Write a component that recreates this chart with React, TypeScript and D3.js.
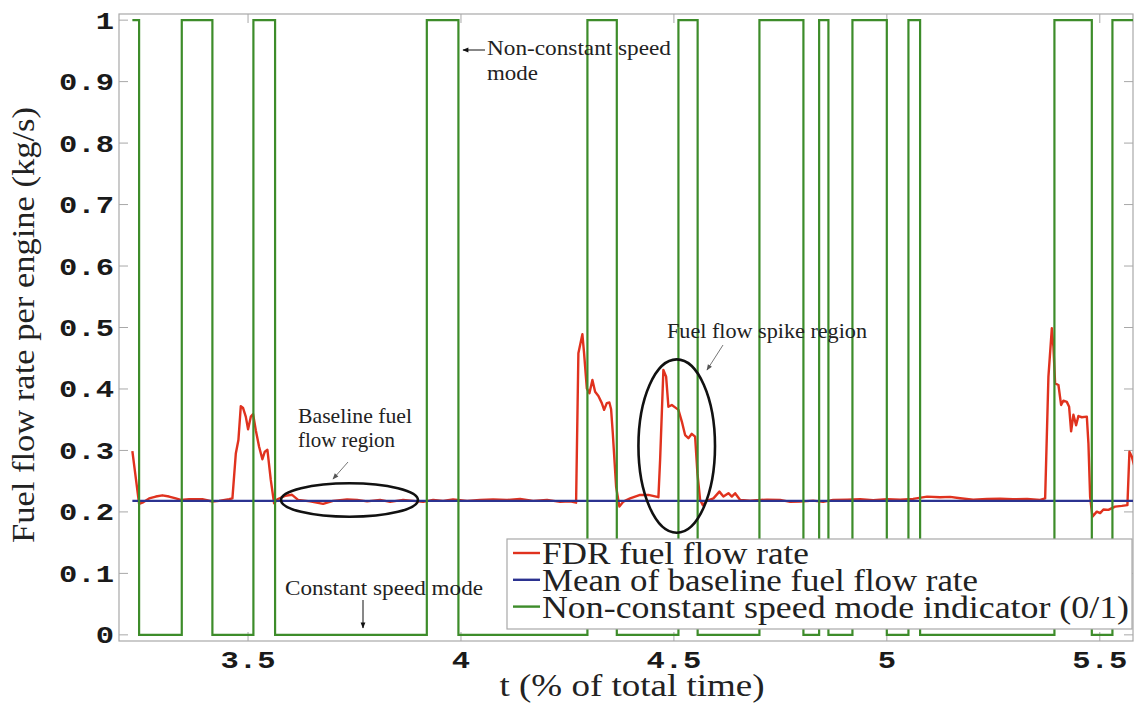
import React from 'react';
import * as d3 from 'd3';

// ---------- data ----------
const xTicks = [3.5, 4, 4.5, 5, 5.5];
const xTickLabels = ['3.5', '4', '4.5', '5', '5.5'];
const yTicks = [0, 0.1, 0.2, 0.3, 0.4, 0.5, 0.6, 0.7, 0.8, 0.9, 1];
const yTickLabels = ['0', '0.1', '0.2', '0.3', '0.4', '0.5', '0.6', '0.7', '0.8', '0.9', '1'];

// FDR fuel flow rate (kg/s) vs t (% of total time)
const fdrT = [
  3.2284, 3.2442, 3.2519, 3.2677, 3.2834, 3.2989, 3.3146, 3.3304, 3.3421, 3.3616,
  3.3928, 3.4163, 3.432, 3.4555, 3.4633, 3.4713, 3.4774, 3.483, 3.4884, 3.4947,
  3.5001, 3.5065, 3.5119, 3.5182, 3.526, 3.5337, 3.5394, 3.5455, 3.5534, 3.5612,
  3.5689, 3.587, 3.6027, 3.6175, 3.6457, 3.6763, 3.6997, 3.7326, 3.7561, 3.7796,
  3.8101, 3.8336, 3.8641, 3.8876, 3.9111, 3.9346, 3.958, 3.9815, 4.0144, 4.0449,
  4.0754, 4.1083, 4.1388, 4.1694, 4.2022, 4.2328, 4.2563, 4.2703, 4.2757, 4.2851,
  4.2891, 4.2955, 4.3016, 4.3086, 4.315, 4.3227, 4.3307, 4.3361, 4.3424, 4.3485,
  4.3525, 4.3565, 4.3643, 4.372, 4.3814, 4.3971, 4.4206, 4.4401, 4.4636, 4.4676,
  4.4753, 4.4817, 4.4871, 4.4951, 4.5028, 4.5106, 4.5186, 4.5263, 4.534, 4.542,
  4.5498, 4.5552, 4.5615, 4.5679, 4.5773, 4.5928, 4.6068, 4.6162, 4.628, 4.636,
  4.6437, 4.6555, 4.6789, 4.7188, 4.7494, 4.7729, 4.7963, 4.8269, 4.8503, 4.8738,
  4.9067, 4.9372, 4.9678, 5.0006, 5.0312, 5.0617, 5.0946, 5.1251, 5.1486, 5.1721,
  5.2026, 5.2355, 5.266, 5.2965, 5.3294, 5.3599, 5.3717, 5.3794, 5.3874, 5.3911,
  5.3951, 5.4029, 5.4092, 5.4146, 5.4226, 5.428, 5.4327, 5.4381, 5.4444, 5.4498,
  5.4578, 5.4696, 5.4733, 5.4773, 5.4827, 5.493, 5.5008, 5.5085, 5.5203, 5.536,
  5.5518, 5.5649, 5.5696, 5.5752, 5.5806,
];
const fdrV = [
  0.299, 0.213, 0.215, 0.222, 0.225, 0.227, 0.225, 0.222, 0.2195, 0.2206,
  0.2206, 0.217, 0.218, 0.2206, 0.222, 0.295, 0.317, 0.372, 0.369, 0.355,
  0.3345, 0.355, 0.359, 0.333, 0.306, 0.2857, 0.298, 0.301, 0.252, 0.214,
  0.2206, 0.226, 0.228, 0.2195, 0.2171, 0.213, 0.2179, 0.2203, 0.2195, 0.2171,
  0.2195, 0.2163, 0.2195, 0.2179, 0.2163, 0.2195, 0.2179, 0.2203, 0.2179, 0.2195,
  0.2203, 0.2195, 0.2211, 0.2179, 0.2195, 0.2163, 0.2171, 0.215, 0.458, 0.489,
  0.458, 0.401, 0.393, 0.4146, 0.3956, 0.3886, 0.377, 0.366, 0.377, 0.378,
  0.367, 0.328, 0.241, 0.2086, 0.2168, 0.222, 0.2276, 0.2276, 0.224, 0.2846,
  0.431, 0.42, 0.371, 0.374, 0.37, 0.366, 0.347, 0.325, 0.32, 0.327,
  0.3225, 0.263, 0.2195, 0.211, 0.218, 0.222, 0.233, 0.225, 0.2304, 0.225,
  0.2304, 0.2195, 0.2184, 0.22, 0.2195, 0.2163, 0.2167, 0.2184, 0.2163, 0.2195,
  0.22, 0.2207, 0.219, 0.2207, 0.22, 0.2211, 0.2249, 0.2239, 0.2244, 0.2223,
  0.22, 0.2211, 0.2216, 0.2207, 0.2211, 0.2195, 0.222, 0.42, 0.4987, 0.469,
  0.409, 0.4065, 0.374, 0.381, 0.379, 0.371, 0.331, 0.358, 0.341, 0.356,
  0.354, 0.355, 0.312, 0.225, 0.1924, 0.2005, 0.198, 0.204, 0.2033, 0.2086,
  0.2098, 0.211, 0.298, 0.29, 0.276,
];

// Mean of baseline fuel flow rate
const meanT = [3.2284, 5.5806];
const meanV = [0.218, 0.218];

// Non-constant speed mode indicator (0/1), value holds from each time to the next
const modeT = [
  3.2284, 3.2442, 3.3444, 3.4163, 3.5126, 3.5635, 3.9198, 3.994, 4.2969, 4.3659,
  4.5106, 4.5557, 4.7008, 4.8041, 4.841, 4.8628, 4.9192, 4.9999, 5.0507, 5.0781,
  5.3935, 5.4813, 5.5297, 5.5806,
];
const modeV = [
  1, 0, 1, 0, 1, 0, 1, 0, 1, 0,
  1, 0, 1, 0, 1, 0, 1, 0, 1, 0,
  1, 0, 1, 1,
];

const legendLabels = [
  'FDR fuel flow rate',
  'Mean of baseline fuel flow rate',
  'Non-constant speed mode indicator (0/1)',
];

// ---------- layout ----------
const W = 1134;
const H = 703;
const L = 119, R = 1133, T = 14, B = 641;
const RED = '#e0321e';
const BLUE = '#2b3290';
const GREEN = '#3d8c2a';
const FRAME = '#a8a8a8';
const SERIF = '"Liberation Serif", "DejaVu Serif", serif';
const MONO = '"Liberation Mono", "DejaVu Sans Mono", monospace';

export default function App() {
  const x = d3.scaleLinear().domain([3.197, 5.578]).range([L, R]);
  const y = d3.scaleLinear().domain([-0.01, 1.01]).range([B, T]);

  const line = d3
    .line<number>()
    .x((_, i, arr) => 0)
    .y(() => 0);
  void line;

  const mk = (ts: number[], vs: number[], curve?: d3.CurveFactory) => {
    const g = d3
      .line<[number, number]>()
      .x((d) => x(d[0]))
      .y((d) => y(d[1]));
    if (curve) g.curve(curve);
    return g(ts.map((t, i) => [t, vs[i]] as [number, number])) || '';
  };

  const fdrPath = mk(fdrT, fdrV);
  const meanPath = mk(meanT, meanV);
  const modePath = mk(modeT, modeV, d3.curveStepAfter);

  const tickLen = 9;

  const ell1 = { t: 3.7382, v: 0.2194, rt: 0.1608, rv: 0.0272 };
  const ell2 = { t: 4.5066, v: 0.3072, rt: 0.0899, rv: 0.141 };

  return (
    <svg
      width={W}
      height={H}
      viewBox={`0 0 ${W} ${H}`}
      style={{ position: 'absolute', left: 0, top: 0, background: '#fff' }}
    >
      <defs>
        <clipPath id="plotClip">
          <rect x={L} y={T} width={R - L} height={B - T} />
        </clipPath>
        <marker id="ahBlack" viewBox="0 0 10 10" refX="9" refY="5" markerWidth="7" markerHeight="6" orient="auto" markerUnits="userSpaceOnUse">
          <path d="M0,1 L10,5 L0,9 Z" fill="#111" />
        </marker>
        <marker id="ahGray" viewBox="0 0 10 10" refX="9" refY="5" markerWidth="7" markerHeight="6" orient="auto" markerUnits="userSpaceOnUse">
          <path d="M0,1 L10,5 L0,9 Z" fill="#555" />
        </marker>
      </defs>
      <rect x={0} y={0} width={W} height={H} fill="#fff" />

      {/* frame */}
      <rect x={L} y={T} width={R - L} height={B - T} fill="none" stroke={FRAME} strokeWidth={1.2} />

      {/* ticks */}
      {yTicks.map((v) => (
        <g key={'yt' + v}>
          <line x1={L} x2={L + tickLen} y1={y(v)} y2={y(v)} stroke={FRAME} strokeWidth={1} />
          <line x1={R - tickLen} x2={R} y1={y(v)} y2={y(v)} stroke={FRAME} strokeWidth={1} />
        </g>
      ))}
      {xTicks.map((t) => (
        <g key={'xt' + t}>
          <line x1={x(t)} x2={x(t)} y1={B} y2={B - tickLen} stroke={FRAME} strokeWidth={1} />
          <line x1={x(t)} x2={x(t)} y1={T} y2={T + tickLen} stroke={FRAME} strokeWidth={1} />
        </g>
      ))}

      {/* tick labels */}
      {yTicks.map((v, i) => (
        <text
          key={'yl' + v}
          transform={`translate(${114},${y(v) + 8.5}) scale(1.3,1)`}
          textAnchor="end"
          fontFamily={MONO}
          fontWeight="bold"
          fontSize={23.5}
          fill="#1a1a1a"
        >
          {yTickLabels[i]}
        </text>
      ))}
      {xTicks.map((t, i) => (
        <text
          key={'xl' + t}
          transform={`translate(${x(t)},${668}) scale(1.3,1)`}
          textAnchor="middle"
          fontFamily={MONO}
          fontWeight="bold"
          fontSize={23.5}
          fill="#1a1a1a"
        >
          {xTickLabels[i]}
        </text>
      ))}

      {/* axis labels */}
      <text
        transform={`translate(34,325) rotate(-90)`}
        textAnchor="middle"
        fontFamily={SERIF}
        fontSize={32}
        fill="#222"
        textLength={436}
        lengthAdjust="spacingAndGlyphs"
      >
        Fuel flow rate per engine (kg/s)
      </text>
      <text
        x={632}
        y={696}
        textAnchor="middle"
        fontFamily={SERIF}
        fontSize={32}
        fill="#222"
        textLength={265}
        lengthAdjust="spacingAndGlyphs"
      >
        t (% of total time)
      </text>

      {/* series */}
      <g clipPath="url(#plotClip)">
        <path d={fdrPath} fill="none" stroke={RED} strokeWidth={2.4} strokeLinejoin="round" />
        <path d={meanPath} fill="none" stroke={BLUE} strokeWidth={2.2} />
        <path d={modePath} fill="none" stroke={GREEN} strokeWidth={2.2} />
      </g>

      {/* annotations */}
      <ellipse
        cx={x(ell1.t)}
        cy={y(ell1.v)}
        rx={x(ell1.t + ell1.rt) - x(ell1.t)}
        ry={y(ell1.v) - y(ell1.v + ell1.rv)}
        fill="none"
        stroke="#111"
        strokeWidth={2.6}
      />
      <ellipse
        cx={x(ell2.t)}
        cy={y(ell2.v)}
        rx={x(ell2.t + ell2.rt) - x(ell2.t)}
        ry={y(ell2.v) - y(ell2.v + ell2.rv)}
        fill="none"
        stroke="#111"
        strokeWidth={2.6}
      />

      <g fontFamily={SERIF} fill="#222" fontSize={22}>
        <text x={487} y={55} textLength={184} lengthAdjust="spacingAndGlyphs">Non-constant speed</text>
        <text x={487} y={80} textLength={51} lengthAdjust="spacingAndGlyphs">mode</text>
        <text x={667} y={338} textLength={200} lengthAdjust="spacingAndGlyphs">Fuel flow spike region</text>
        <text x={298} y={423} textLength={114} lengthAdjust="spacingAndGlyphs">Baseline fuel</text>
        <text x={298} y={447} textLength={97} lengthAdjust="spacingAndGlyphs">flow region</text>
        <text x={285} y={595} textLength={198} lengthAdjust="spacingAndGlyphs">Constant speed mode</text>
      </g>
      <line x1={485} y1={50} x2={463} y2={50} stroke="#111" strokeWidth={1} markerEnd="url(#ahBlack)" />
      <line x1={348} y1={462} x2={333} y2={479} stroke="#777" strokeWidth={1} markerEnd="url(#ahGray)" />
      <line x1={723} y1={345} x2={707} y2={370} stroke="#777" strokeWidth={1} markerEnd="url(#ahGray)" />
      <line x1={363} y1={600} x2={363} y2={628} stroke="#111" strokeWidth={1} markerEnd="url(#ahBlack)" />

      {/* legend */}
      <g>
        <rect x={507} y={539} width={625} height={90} fill="#fff" stroke={FRAME} strokeWidth={1.2} />
        {legendLabels.map((lab, i) => {
          const cy = 553 + i * 26.8;
          const col = [RED, BLUE, GREEN][i];
          const tl = [267, 436, 587][i];
          return (
            <g key={lab}>
              <line x1={513} x2={540} y1={cy} y2={cy} stroke={col} strokeWidth={2.4} />
              <text
                x={542}
                y={cy + 11}
                fontFamily={SERIF}
                fontSize={31}
                fill="#222"
                textLength={tl}
                lengthAdjust="spacingAndGlyphs"
              >
                {lab}
              </text>
            </g>
          );
        })}
      </g>
    </svg>
  );
}
